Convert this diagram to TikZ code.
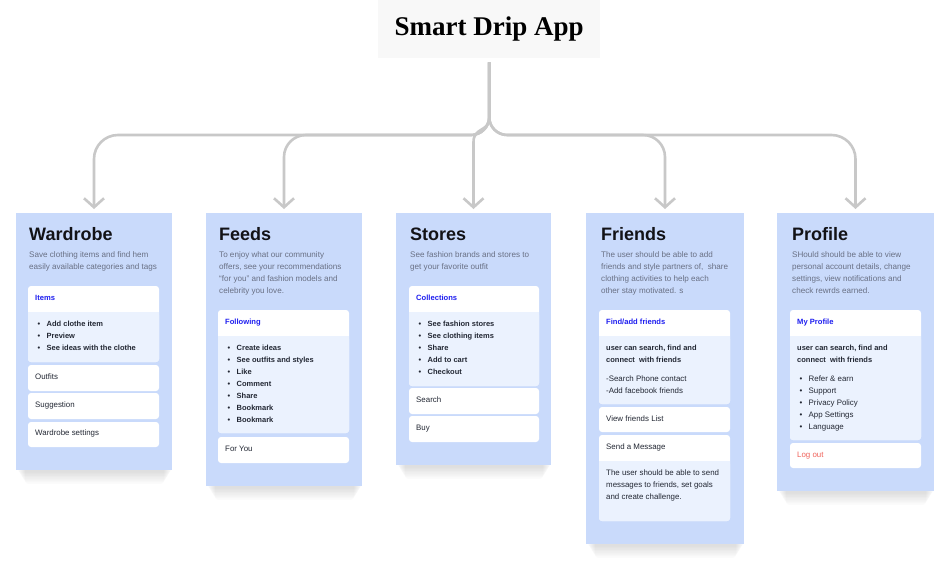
\documentclass[tikz,border=0pt]{standalone}
\usepackage{fontspec}
\setmainfont{Liberation Sans}
\newfontfamily\titlefont{Liberation Serif}
\usetikzlibrary{arrows.meta,calc}
\definecolor{cardc}{RGB}{201,218,251}
\definecolor{bodyc}{RGB}{235,242,254}
\definecolor{linec}{RGB}{200,200,200}
\definecolor{descc}{RGB}{105,112,132}
\definecolor{headc}{RGB}{30,30,240}
\definecolor{darkc}{RGB}{35,40,52}
\definecolor{inkc}{RGB}{18,18,22}
\definecolor{redc}{RGB}{240,98,90}
\definecolor{titlebg}{RGB}{248,248,248}
\pgfdeclarelayer{bg}
\pgfsetlayers{bg,main}
\newcommand\linesat[5]{\foreach \t [count=\i] in {#5}{\node[#4] (#1-\i) at (#2,{#3+12*(\i-1)}) {\t};}}
\newcommand\bulletsat[5]{\foreach \t [count=\i] in {#5}{\node[#4] (#1-\i) at (#2,{#3+12*(\i-1)}) {\makebox[9pt][l]{\textbullet}\t};}}
\newcommand\innerbox[6]{%
  \node[ibx, minimum width={#4-#2}, minimum height={#5-#3}] (#1) at (#2,#3) {};
  \fill[bodyc, rounded corners=3pt] (#2,#6) rectangle (#4,#5);
  \fill[bodyc] (#2,#6) rectangle (#4,{#6+4});}
\newcommand\plainbox[5]{\node[ibx, minimum width={#4-#2}, minimum height={#5-#3}] (#1) at (#2,#3) {};}
\newcommand\cardshadow[1]{\begin{pgfonlayer}{bg}\foreach \k in {1,...,8}{\fill[black,opacity=0.014, rounded corners=3pt] ($(#1.south west)+(1+\k,-4)$) rectangle ($(#1.south east)+(-\k,{1.6*\k+1})$);}\end{pgfonlayer}}
\begin{document}
\begin{tikzpicture}[x=1pt,y=-1pt,
  card/.style={fill=cardc, anchor=north west, inner sep=0pt, outer sep=0pt},
  ibx/.style={fill=white, rounded corners=3pt, anchor=north west, inner sep=0pt, outer sep=0pt},
  conn/.style={draw=linec, line width=2.6pt, -{Straight Barb[length=9pt,width=20pt]}, shorten <=4pt, shorten >=4pt},
  heading/.style={anchor=base west, inner sep=0pt, text=inkc, font=\bfseries\fontsize{18}{20}\selectfont},
  desc/.style={anchor=base west, inner sep=0pt, text=descc, font=\fontsize{8.1}{10}\selectfont},
  head/.style={anchor=base west, inner sep=0pt, text=headc, font=\bfseries\fontsize{7.6}{9}\selectfont},
  item/.style={anchor=base west, inner sep=0pt, text=darkc, font=\fontsize{7.9}{9}\selectfont},
  bitem/.style={anchor=base west, inner sep=0pt, text=darkc, font=\bfseries\fontsize{7.5}{9}\selectfont},
]
\begin{pgfonlayer}{bg}
\fill[white] (0,0) rectangle (943,563);
\end{pgfonlayer}
\useasboundingbox (0,0) rectangle (943,563);

% title
\node[fill=titlebg, minimum width=222, minimum height=58, anchor=north west, inner sep=0pt,
  font=\titlefont\bfseries\fontsize{27}{30}\selectfont, text=black] (title) at (378,0) {Smart Drip App};

% cards
\node[card, minimum width=156, minimum height=257] (wardrobe) at (16,213) {};
\node[card, minimum width=156, minimum height=273] (feeds) at (206,213) {};
\node[card, minimum width=155, minimum height=252] (stores) at (396,213) {};
\node[card, minimum width=158, minimum height=331] (friends) at (586,213) {};
\node[card, minimum width=157, minimum height=278] (profile) at (777,213) {};
\cardshadow{wardrobe}\cardshadow{feeds}\cardshadow{stores}\cardshadow{friends}\cardshadow{profile}

% connectors
\coordinate (hub) at (489,135);
\draw[conn] (title.south) [rounded corners=18pt] -- (title.south |- hub) [rounded corners=24pt] -- (wardrobe.north |- hub) -- (wardrobe.north);
\draw[conn] (title.south) [rounded corners=18pt] -- (title.south |- hub) [rounded corners=22pt] -- (feeds.north |- hub) -- (feeds.north);
\draw[conn] (title.south) [rounded corners=18pt] -- (title.south |- hub) [rounded corners=22pt] -- (friends.north |- hub) -- (friends.north);
\draw[conn] (title.south) [rounded corners=18pt] -- (title.south |- hub) [rounded corners=24pt] -- (profile.north |- hub) -- (profile.north);
\draw[conn] (title.south) -- (title.south |- 0,118) .. controls (title.south |- 0,132) and (stores.north |- 0,127) .. (stores.north |- 0,142) -- (stores.north);

% Wardrobe
\node[heading] (w-title) at (29,240) {Wardrobe};
\linesat{wd}{29}{257}{desc}{Save clothing items and find hem, easily available categories and tags}
\innerbox{wi}{28}{286}{159}{362}{312}
\node[head] (wi-h) at (35,300) {Items};
\bulletsat{wib}{37.5}{326}{bitem}{Add clothe item, Preview, See ideas with the clothe}
\plainbox{wo}{28}{365}{159}{391}
\node[item] (wo-t) at (35,379) {Outfits};
\plainbox{ws}{28}{393}{159}{419}
\node[item] (ws-t) at (35,407) {Suggestion};
\plainbox{wset}{28}{422}{159}{447}
\node[item] (wset-t) at (35,435) {Wardrobe settings};

% Feeds
\node[heading] (f-title) at (219,240) {Feeds};
\linesat{fd}{219}{257}{desc}{To enjoy what our community, {offers, see your recommendations}, “for you” and fashion models and, celebrity you love.}
\innerbox{fi}{218}{310}{349}{433}{336}
\node[head] (fi-h) at (225,324) {Following};
\bulletsat{fib}{227.5}{350}{bitem}{Create ideas, See outfits and styles, Like, Comment, Share, Bookmark, Bookmark}
\plainbox{fy}{218}{437}{349}{463}
\node[item] (fy-t) at (225,451) {For You};

% Stores
\node[heading] (s-title) at (410,240) {Stores};
\linesat{sd}{410}{257}{desc}{See fashion brands and stores to, get your favorite outfit}
\innerbox{si}{409}{286}{539}{386}{312}
\node[head] (si-h) at (416,300) {Collections};
\bulletsat{sib}{418.5}{326}{bitem}{See fashion stores, See clothing items, Share, Add to cart, Checkout}
\plainbox{ss}{409}{388}{539}{414}
\node[item] (ss-t) at (416,402) {Search};
\plainbox{sb}{409}{416}{539}{442}
\node[item] (sb-t) at (416,430) {Buy};

% Friends
\node[heading] (fr-title) at (601,240) {Friends};
\linesat{frd}{601}{257}{desc}{The user should be able to add, {friends and style partners of,~ share}, clothing activities to help each, other stay motivated. s}
\innerbox{fri}{599}{310}{730}{404}{336}
\node[head] (fri-h) at (606,324) {Find/add friends};
\linesat{frb}{606}{350}{bitem}{{user can search, find and}, connect~ with friends}
\linesat{frr}{606}{381}{item}{-Search Phone contact, -Add facebook friends}
\plainbox{frv}{599}{407}{730}{432}
\node[item] (frv-t) at (606,421) {View friends List};
\innerbox{frm}{599}{435}{730}{521}{461}
\node[item] (frm-h) at (606,449) {Send a Message};
\linesat{frmt}{606}{475}{item}{The user should be able to send, {messages to friends, set goals}, and create challenge.}

% Profile
\node[heading] (p-title) at (792,240) {Profile};
\linesat{pd}{792}{257}{desc}{SHould should be able to view, {personal account details, change}, {settings, view notifications and}, check rewrds earned.}
\innerbox{pi}{790}{310}{921}{440}{336}
\node[head] (pi-h) at (797,324) {My Profile};
\linesat{pib}{797}{350}{bitem}{{user can search, find and}, connect~ with friends}
\bulletsat{pil}{799.5}{381}{item}{Refer \& earn, Support, Privacy Policy, App Settings, Language}
\plainbox{pl}{790}{443}{921}{468}
\node[item, text=redc] (pl-t) at (797,457) {Log out};
\end{tikzpicture}
\end{document}
